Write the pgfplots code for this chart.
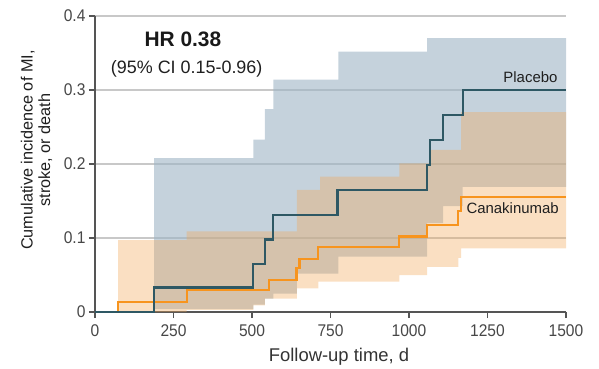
\documentclass[border=0pt]{standalone}
\usepackage{fontspec}
\setmainfont{Liberation Sans}
\newfontfamily\tickfont[FakeStretch=0.92]{Liberation Sans}
\usepackage{pgfplots}
\pgfplotsset{compat=1.18}
\definecolor{plbline}{RGB}{46,88,100}
\definecolor{plbband}{RGB}{158,180,197}
\definecolor{canline}{RGB}{247,148,30}
\definecolor{canband}{RGB}{241,167,87}
\definecolor{gridc}{RGB}{200,200,200}
\definecolor{axc}{RGB}{85,85,85}
\begin{document}
\begin{tikzpicture}
\begin{axis}[
  scale only axis,
  width=471bp, height=296bp,
  xmin=0, xmax=1500, ymin=0, ymax=0.4,
  clip=false,
  axis x line*=bottom, axis y line*=left,
  axis line style={axc, line width=1.1pt},
  xtick={0,250,500,750,1000,1250,1500},
  xticklabels={0,250,500,750,1000,1250,1500},
  ytick={0,0.1,0.2,0.3,0.4},
  yticklabels={0,0.1,0.2,0.3,0.4},
  tick align=outside,
  major tick length=6bp,
  tick style={axc, line width=1.1pt},
  ticklabel style={font=\tickfont\fontsize{17}{17}\selectfont, text=black!72},
  xticklabel style={yshift=-3bp},
  ymajorgrids,
  grid style={gridc, line width=1.2pt},
  xlabel={Follow-up time, d},
  xlabel style={at={(axis description cs:0.518,-0.152)}, anchor=center, font=\fontsize{18.5}{18.5}\selectfont, text=black!80},
  ylabel={Cumulative incidence of MI,\\stroke, or death},
  ylabel style={at={(axis description cs:-0.124,0.547)}, anchor=center, align=center, font=\fontsize{16.3}{17.5}\selectfont, text=black!88},
]
% Placebo confidence band (upper bound left to right, lower bound right to left)
\addplot[fill=plbband, fill opacity=0.6, draw=none] coordinates {
  (188,0.208) (504,0.208) (504,0.233) (541,0.233) (541,0.274) (568,0.274) (568,0.314)
  (775,0.314) (775,0.352) (1058,0.352) (1058,0.370) (1500,0.370)
  (1500,0.169) (1171,0.169) (1171,0.143) (1109,0.143) (1109,0.120) (1058,0.120)
  (1058,0.075) (775,0.075) (775,0.052) (643,0.052) (643,0.025) (568,0.025)
  (568,0.018) (541,0.018) (541,0.010) (504,0.010) (504,0.004) (188,0.004)} -- cycle;
% Canakinumab confidence band
\addplot[fill=canband, fill opacity=0.36, draw=none] coordinates {
  (74,0.097) (292,0.097) (292,0.109) (643,0.109) (643,0.165) (717,0.165) (717,0.183)
  (969,0.183) (969,0.201) (1067,0.201) (1067,0.219) (1166,0.219) (1166,0.270) (1500,0.270)
  (1500,0.086) (1166,0.086) (1166,0.073) (1157,0.073) (1157,0.061) (1058,0.061)
  (1058,0.050) (969,0.050) (969,0.041) (711,0.041) (711,0.032) (643,0.032)
  (643,0.018) (541,0.018) (541,0.009) (504,0.009) (504,0.003) (292,0.003)
  (292,0.000) (74,0.000)} -- cycle;
% Curves
\addplot[const plot, canline, line width=2.2pt] coordinates {
  (0,0) (74,0.014) (292,0.030) (555,0.043) (642,0.059) (651,0.072) (711,0.088) (969,0.102) (1058,0.118) (1157,0.136) (1166,0.155) (1500,0.155)};
\addplot[const plot, plbline, line width=2.2pt] coordinates {
  (0,0) (188,0.033) (504,0.065) (541,0.098) (568,0.131) (772,0.165) (1058,0.199) (1067,0.232) (1109,0.266) (1171,0.300) (1500,0.300)};
\node[font=\bfseries\fontsize{21}{21}\selectfont, text=black!90] at (axis cs:280,0.368) {HR 0.38};
\node[font=\fontsize{18}{18}\selectfont, text=black!88] at (axis cs:292,0.328) {(95\% CI 0.15-0.96)};
\node[anchor=east, font=\fontsize{15}{15}\selectfont, text=black!88] at (axis cs:1484,0.318) {Placebo};
\node[anchor=east, font=\fontsize{15}{15}\selectfont, text=black!88] at (axis cs:1488,0.140) {Canakinumab};
\end{axis}
\path (-95bp,-57bp) rectangle (504bp,312bp);
\end{tikzpicture}
\end{document}
